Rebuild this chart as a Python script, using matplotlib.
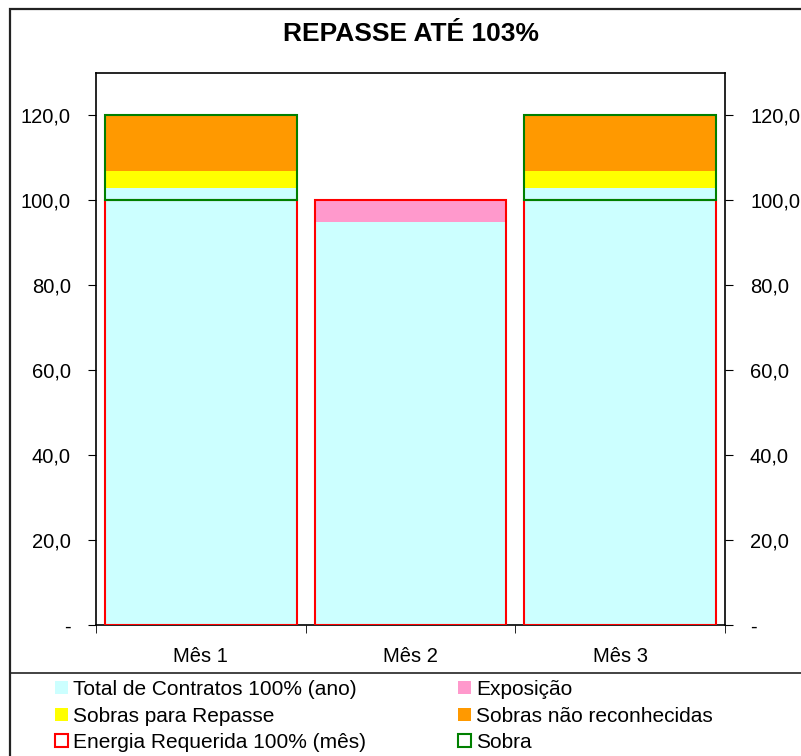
import numpy as np
import matplotlib.pyplot as plt
from matplotlib.patches import Rectangle
from matplotlib.lines import Line2D
from matplotlib.ticker import FuncFormatter

plt.rcParams['font.family'] = ['Liberation Sans', 'DejaVu Sans']

# data
months = ['Mês 1', 'Mês 2', 'Mês 3']
contratos = [103, 95, 103]
exposicao = [0, 5, 0]
sobras_repasse = [4, 0, 4]
sobras_nao = [13, 0, 13]
energia = [100, 100, 100]
sobra = [20, 0, 20]
yticks = [0, 20, 40, 60, 80, 100, 120]

W, H = 801, 756
fig = plt.figure(figsize=(W / 100, H / 100), dpi=100)

# outer chart frame and legend separator
fig.add_artist(Rectangle((10 / W, -0.1), 1.2, (H - 9) / H + 0.1, transform=fig.transFigure,
                         fill=False, edgecolor='#222222', linewidth=1.6))
fig.add_artist(Line2D([10 / W, 1], [(H - 673) / H] * 2, transform=fig.transFigure,
                      color='#222222', linewidth=1.2))

ax = fig.add_axes([96 / W, (H - 625) / H, 629 / W, 552 / H])
x = np.arange(len(months))
bw = 0.915

b = np.zeros(len(months))
ax.bar(x, contratos, bw, bottom=b, color='#CCFFFF', label='Total de Contratos 100% (ano)', zorder=2)
b += contratos
ax.bar(x, exposicao, bw, bottom=b, color='#FF99CC', label='Exposição', zorder=2)
b += exposicao
ax.bar(x, sobras_repasse, bw, bottom=b, color='#FFFF00', label='Sobras para Repasse', zorder=2)
b += sobras_repasse
ax.bar(x, sobras_nao, bw, bottom=b, color='#FF9900', label='Sobras não reconhecidas', zorder=2)

# outline series (no fill)
ax.bar(x, energia, bw, fill=False, edgecolor='#FF0000', linewidth=1.5,
       label='Energia Requerida 100% (mês)', zorder=3)
s = np.array(sobra, dtype=float)
ax.bar(x[s > 0], s[s > 0], bw, bottom=np.array(energia)[s > 0], fill=False,
       edgecolor='#008000', linewidth=1.5, label='Sobra', zorder=4)

ax.set_xlim(-0.5, 2.5)
ax.set_ylim(0, 130)
ax.set_yticks(yticks)
ax.yaxis.set_major_formatter(FuncFormatter(lambda v, p: '-' if v == 0 else f'{v:.1f}'.replace('.', ',')))
ax.tick_params(axis='y', which='both', left=True, right=True, labelleft=True, labelright=True,
               direction='out', length=6, labelsize=14.5, pad=12)
ax.set_xticks(x)
ax.set_xticklabels(months, fontsize=14.5)
ax.set_xticks([-0.5, 0.5, 1.5, 2.5], minor=True)
ax.tick_params(axis='x', which='major', length=0, pad=16)
ax.tick_params(axis='x', which='minor', length=6, direction='out')
for sp in ax.spines.values():
    sp.set_color('black')
    sp.set_linewidth(1.2)

fig.text(411 / W, 1 - 34 / H, 'REPASSE ATÉ 103%', ha='center', va='center',
         fontsize=19, fontweight='bold')

h, l = ax.get_legend_handles_labels()
order = [0, 2, 4, 1, 3, 5]
fig.legend([h[i] for i in order], [l[i] for i in order], ncol=2, loc='upper left',
           bbox_to_anchor=(55 / W, 1 - 680 / H), frameon=False, fontsize=15,
           handlelength=0.6, handleheight=0.6, handletextpad=0.25,
           columnspacing=4.45, labelspacing=0.36, borderaxespad=0, borderpad=0)

fig.savefig('out.png', dpi=100)
